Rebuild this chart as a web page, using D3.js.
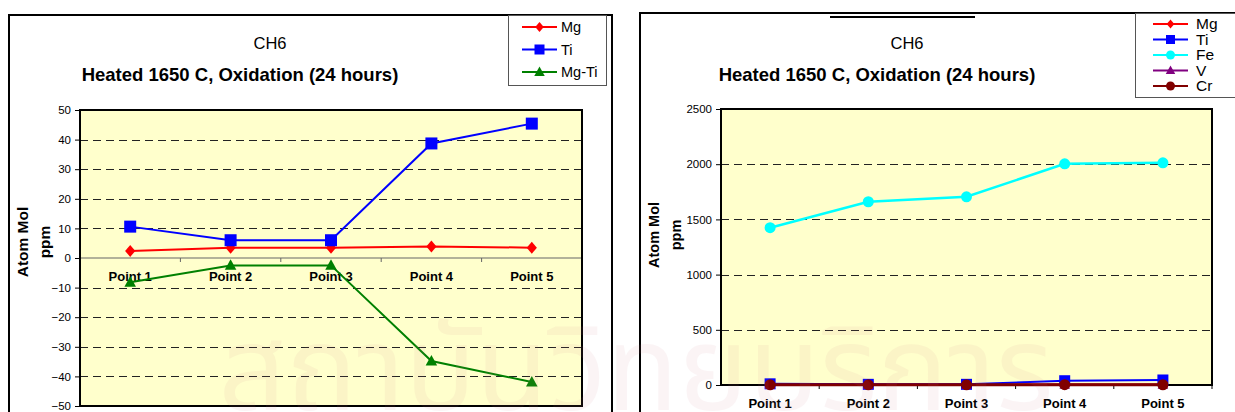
<!DOCTYPE html>
<html>
<head>
<meta charset="utf-8">
<script src="https://cdn.jsdelivr.net/npm/d3@7"></script>
<style>
  html, body { margin: 0; padding: 0; background: #fff; }
  svg { display: block; font-family: "Liberation Sans", Arial, sans-serif; }
</style>
</head>
<body>
<svg id="page" width="1235" height="412"></svg>
<script>
// Sampling points along the specimen
const points = ["Point 1", "Point 2", "Point 3", "Point 4", "Point 5"];

// Concentrations, atom mol ppm
const mg   = [2.4, 3.5, 3.5, 3.9, 3.5];
const ti   = [10.6, 6.0, 6.0, 38.7, 45.4];
const mgTi = [-8.2, -2.5, -2.5, -34.8, -41.9];
const fe   = [1425, 1660, 1705, 2003, 2013];
const v    = [1.2, 0.9, 1.0, 1.5, 1.3];
const cr   = [2.0, 1.5, 1.8, 2.5, 2.2];

// Axis ticks
const leftTicks  = [50, 40, 30, 20, 10, 0, -10, -20, -30, -40, -50];
const rightTicks = [2500, 2000, 1500, 1000, 500, 0];

const chartTitle = "CH6";
const chartSubtitle = "Heated 1650 C, Oxidation (24 hours)";
const axisTitle = ["Atom Mol", "ppm"];

const svg = d3.select("#page");

function marker(g, shape, x, y, color, size) {
  if (shape === "diamond") {
    const s = size / 2;
    g.append("path").attr("d", `M${x},${y - s}L${x + s * 0.85},${y}L${x},${y + s}L${x - s * 0.85},${y}Z`).attr("fill", color);
  } else if (shape === "square") {
    g.append("rect").attr("x", x - size / 2).attr("y", y - size / 2).attr("width", size).attr("height", size).attr("fill", color);
  } else if (shape === "triangle") {
    const s = size / 2;
    g.append("path").attr("d", `M${x},${y - s * 1.1}L${x + s * 1.05},${y + s * 0.8}L${x - s * 1.05},${y + s * 0.8}Z`).attr("fill", color);
  } else if (shape === "circle") {
    g.append("circle").attr("cx", x).attr("cy", y).attr("r", size / 2).attr("fill", color);
  }
}

function drawChart(cfg) {
  const g = svg.append("g");

  // outer frame
  g.append("rect")
    .attr("x", cfg.frame[0]).attr("y", cfg.frame[1])
    .attr("width", cfg.frame[2]).attr("height", cfg.frame[3])
    .attr("fill", "none").attr("stroke", "#000").attr("stroke-width", 2);

  // titles
  g.append("text").attr("x", cfg.titleX).attr("y", 49)
    .attr("text-anchor", "middle").attr("font-size", 16.5).text(chartTitle);
  g.append("text").attr("x", cfg.titleX - 30).attr("y", 81)
    .attr("text-anchor", "middle").attr("font-size", 18.5).attr("font-weight", "bold").text(chartSubtitle);

  const x = d3.scaleBand().domain(points).range([cfg.plot.left, cfg.plot.right]);
  const y = d3.scaleLinear().domain(cfg.domain).range([cfg.plot.bottom, cfg.plot.top]);

  // plot background
  g.append("rect")
    .attr("x", cfg.plot.left).attr("y", cfg.plot.top)
    .attr("width", cfg.plot.right - cfg.plot.left).attr("height", cfg.plot.bottom - cfg.plot.top)
    .attr("fill", "#FFFFCC");

  // dashed gridlines
  g.append("g").selectAll("line")
    .data(cfg.ticks.filter(t => t !== cfg.domain[0] && t !== cfg.domain[1] && t !== 0))
    .join("line")
    .attr("x1", cfg.plot.left).attr("x2", cfg.plot.right)
    .attr("y1", d => Math.round(y(d)) + 0.5).attr("y2", d => Math.round(y(d)) + 0.5)
    .attr("stroke", "#222").attr("stroke-width", 1).attr("stroke-dasharray", "8,5");

  // y axis
  const yAxis = d3.axisLeft(y).tickValues(cfg.ticks).tickSize(5).tickPadding(4).tickFormat(d3.format("d"));
  const ya = g.append("g").attr("transform", `translate(${cfg.plot.left},0)`).call(yAxis);
  ya.select(".domain").remove();
  ya.selectAll("text").attr("font-size", 11.5).attr("font-family", "Liberation Sans, Arial, sans-serif").attr("fill", "#000");
  ya.selectAll("line").attr("stroke", "#000");

  // category axis along zero
  const y0 = y(0);
  g.append("line")
    .attr("x1", cfg.plot.left).attr("x2", cfg.plot.right)
    .attr("y1", y0).attr("y2", y0)
    .attr("stroke", cfg.zeroColor).attr("stroke-width", cfg.zeroWidth);
  g.append("g").selectAll("line")
    .data(points.slice(1).concat(["__end"]))
    .join("line")
    .attr("x1", (d, i) => i < points.length - 1 ? x(d) : cfg.plot.right)
    .attr("x2", (d, i) => i < points.length - 1 ? x(d) : cfg.plot.right)
    .attr("y1", y0).attr("y2", y0 + 4)
    .attr("stroke", cfg.zeroColor).attr("stroke-width", 1);
  g.append("g").selectAll("text")
    .data(points).join("text")
    .attr("x", d => x(d) + x.bandwidth() / 2)
    .attr("y", y0 + cfg.labelOffset)
    .attr("text-anchor", "middle")
    .attr("font-size", 13).attr("font-weight", "bold")
    .text(d => d);

  // plot border
  g.append("rect")
    .attr("x", cfg.plot.left).attr("y", cfg.plot.top)
    .attr("width", cfg.plot.right - cfg.plot.left).attr("height", cfg.plot.bottom - cfg.plot.top)
    .attr("fill", "none").attr("stroke", "#000").attr("stroke-width", 2);

  // y axis title
  const at = g.append("text")
    .attr("transform", `translate(${cfg.axisTitle.x},${cfg.axisTitle.y}) rotate(-90)`)
    .attr("text-anchor", "middle").attr("font-size", cfg.axisTitle.size).attr("font-weight", "bold");
  at.append("tspan").attr("x", 0).attr("dy", 0).text(axisTitle[0]);
  at.append("tspan").attr("x", 0).attr("dy", cfg.axisTitle.gap).text(axisTitle[1]);

  // series
  const line = d3.line()
    .x((d, i) => x(points[i]) + x.bandwidth() / 2)
    .y(d => y(d));
  cfg.series.forEach(s => {
    g.append("path").datum(s.values)
      .attr("d", line).attr("fill", "none")
      .attr("stroke", s.color).attr("stroke-width", s.width || 2);
    s.values.forEach((val, i) => marker(g, s.shape, x(points[i]) + x.bandwidth() / 2, y(val), s.color, s.size));
  });

  // legend
  const L = cfg.legend;
  g.append("rect")
    .attr("x", L.x).attr("y", L.y).attr("width", L.w).attr("height", L.h)
    .attr("fill", "#fff").attr("stroke", "#555").attr("stroke-width", 1);
  cfg.series.forEach((s, i) => {
    const ly = L.firstY + i * L.step;
    g.append("line").attr("x1", L.lineX).attr("x2", L.lineX + L.lineLen)
      .attr("y1", ly).attr("y2", ly).attr("stroke", s.color).attr("stroke-width", 2);
    marker(g, s.shape, L.lineX + L.lineLen / 2, ly, s.color, L.markerSize);
    g.append("text").attr("x", L.textX).attr("y", ly + 5)
      .attr("font-size", L.fontSize).text(s.name);
  });
}

// Mg / Ti balance chart
drawChart({
  frame: [9, 15, 603, 420],
  titleX: 270,
  plot: { left: 80, right: 582, top: 110, bottom: 406 },
  domain: [-50, 50],
  ticks: leftTicks,
  zeroColor: "#666", zeroWidth: 1.2,
  labelOffset: 23,
  axisTitle: { x: 28, y: 242, size: 15.5, gap: 22 },
  series: [
    { name: "Mg", values: mg, color: "#FF0000", shape: "diamond", size: 12 },
    { name: "Ti", values: ti, color: "#0000FF", shape: "square", size: 12 },
    { name: "Mg-Ti", values: mgTi, color: "#008000", shape: "triangle", size: 11 }
  ],
  legend: { x: 508.5, y: 15.5, w: 98, h: 70, firstY: 27, step: 22.5, lineX: 522, lineLen: 35, textX: 561, markerSize: 10, fontSize: 14.5 }
});

// full element chart
drawChart({
  frame: [640, 13, 620, 420],
  titleX: 907,
  plot: { left: 721, right: 1212, top: 109, bottom: 385 },
  domain: [0, 2500],
  ticks: rightTicks,
  zeroColor: "#000", zeroWidth: 2,
  labelOffset: 23,
  axisTitle: { x: 659, y: 235, size: 14.5, gap: 22 },
  series: [
    { name: "Mg", values: mg, color: "#FF0000", shape: "diamond", size: 11 },
    { name: "Ti", values: ti, color: "#0000FF", shape: "square", size: 11 },
    { name: "Fe", values: fe, color: "#00FFFF", shape: "circle", size: 11, width: 2.5 },
    { name: "V", values: v, color: "#800080", shape: "triangle", size: 10 },
    { name: "Cr", values: cr, color: "#800000", shape: "circle", size: 11, width: 3 }
  ],
  legend: { x: 1135.5, y: 13.5, w: 120, h: 84, firstY: 24, step: 15.5, lineX: 1153, lineLen: 35, textX: 1196, markerSize: 9, fontSize: 15.5 }
});

// short rule above the second chart title
svg.append("line").attr("x1", 830).attr("x2", 975).attr("y1", 17).attr("y2", 17)
  .attr("stroke", "#000").attr("stroke-width", 2);

// faint institutional watermark
svg.append("text").attr("x", 636).attr("y", 410)
  .attr("text-anchor", "middle")
  .attr("font-family", "Noto Sans Thai, Noto Sans, DejaVu Sans, sans-serif")
  .attr("font-size", 118)
  .attr("fill", "#d27a8c").attr("opacity", 0.08)
  .text("สถาบันวิทยบริการ");
</script>
</body>
</html>
